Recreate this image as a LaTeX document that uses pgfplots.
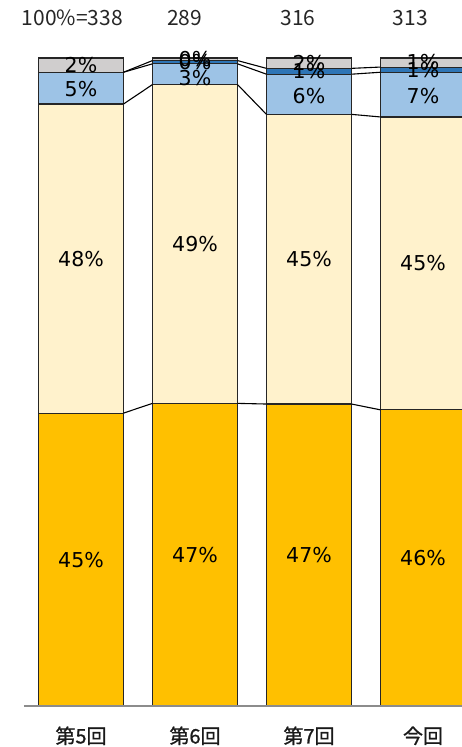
\documentclass[border=0pt]{standalone}
\usepackage{fontspec}
\setmainfont{DejaVu Sans}
\newfontfamily\cjk{Noto Sans CJK JP}
\newfontfamily\cjkb[FakeBold=1]{Noto Sans CJK JP}
\usepackage{pgfplots}
\usepackage{pgfplotstable}
\pgfplotsset{compat=1.18}
\definecolor{cgold}{HTML}{FFC000}
\definecolor{ccream}{HTML}{FFF2CC}
\definecolor{clb}{HTML}{9DC3E6}
\definecolor{cdb}{HTML}{2E75B6}
\definecolor{cgr}{HTML}{D0CECE}
\definecolor{cedge}{HTML}{262626}
\definecolor{caxis}{HTML}{8C8C8C}

\pgfplotstableread{
x g c lb db gr
0 45.2 47.7 4.9 0 2.2
1 46.7 49.2 3.2 0.5 0.4
2 46.6 44.7 6.2 0.9 1.6
3 45.7 45.2 6.9 0.8 1.4
}\shares

\pgfplotstableread{
x y lab
0 22.6 45
0 69.05 48
0 95.2 5
0 98.9 2
1 23.35 47
1 71.3 49
1 96.9 3
1 99.35 0
1 99.8 0
2 23.3 47
2 68.95 45
2 94.2 6
2 97.95 1
2 99.2 2
3 22.85 46
3 68.3 45
3 94.2 7
3 98.2 1
3 99.3 1
}\seglabels

\pgfplotstableread{
x y lab
-0.075 106.2 100\%=338
0.908 106.2 289
1.904 106.2 316
2.890 106.2 313
}\toplabels

\pgfplotsset{myaxis/.style={
  at={(24pt,41pt)}, anchor=south west,
  scale only axis, width=456pt, height=648pt,
  xmin=-0.5, xmax=3.5, ymin=0, ymax=100,
  clip=false,
}}

\begin{document}
\begin{tikzpicture}
\useasboundingbox (0,0) rectangle (462pt,747pt);
\clip (0,0) rectangle (462pt,747pt);
\begin{axis}[myaxis,
  ybar stacked, bar width=0.746,
  axis on top,
  axis x line=bottom, axis y line=none,
  x axis line style={-, draw=caxis, line width=2.5pt},
  xtick={0,1,2,3},
  xticklabels={第5回,第6回,第7回,今回},
  major tick length=0pt,
  xticklabel style={font=\cjkb\fontsize{20}{20}\selectfont, yshift=-17pt, text=black!90},
  ytick=\empty,
]
\addplot[fill=cgold, draw=cedge, line width=1.1pt] table[x=x, y=g] {\shares};
\addplot[fill=ccream, draw=cedge, line width=1.1pt] table[x=x, y=c] {\shares};
\addplot[fill=clb, draw=cedge, line width=1.1pt] table[x=x, y=lb] {\shares};
\addplot[fill=cdb, draw=cedge, line width=1.1pt] table[x=x, y=db] {\shares};
\addplot[fill=cgr, draw=cedge, line width=1.1pt] table[x=x, y=gr] {\shares};
\end{axis}
\begin{axis}[myaxis, hide axis, unbounded coords=jump]
\addplot[black, line width=1.1pt] coordinates {(0.373,45.2) (0.627,46.7) (0.627,nan) (1.373,46.7) (1.627,46.6) (1.627,nan) (2.373,46.6) (2.627,45.7)};
\addplot[black, line width=1.1pt] coordinates {(0.373,92.9) (0.627,95.9) (0.627,nan) (1.373,95.9) (1.627,91.3) (1.627,nan) (2.373,91.3) (2.627,90.9)};
\addplot[black, line width=1.1pt] coordinates {(0.373,97.8) (0.627,99.1) (0.627,nan) (1.373,99.1) (1.627,97.5) (1.627,nan) (2.373,97.5) (2.627,97.8)};
\addplot[black, line width=1.1pt] coordinates {(0.373,97.8) (0.627,99.6) (0.627,nan) (1.373,99.6) (1.627,98.4) (1.627,nan) (2.373,98.4) (2.627,98.6)};
\addplot[draw=none, nodes near coords={\pgfplotspointmeta\%}, point meta=explicit symbolic,
  every node near coord/.append style={anchor=center, inner sep=0pt, font=\fontsize{20.5}{20.5}\selectfont, text=black}]
  table[x=x, y=y, meta=lab] {\seglabels};
\addplot[draw=none, nodes near coords, point meta=explicit symbolic,
  every node near coord/.append style={anchor=center, inner sep=0pt, font=\cjk\fontsize{21}{21}\selectfont, text=black!85}]
  table[x=x, y=y, meta=lab] {\toplabels};
\end{axis}
\end{tikzpicture}
\end{document}
